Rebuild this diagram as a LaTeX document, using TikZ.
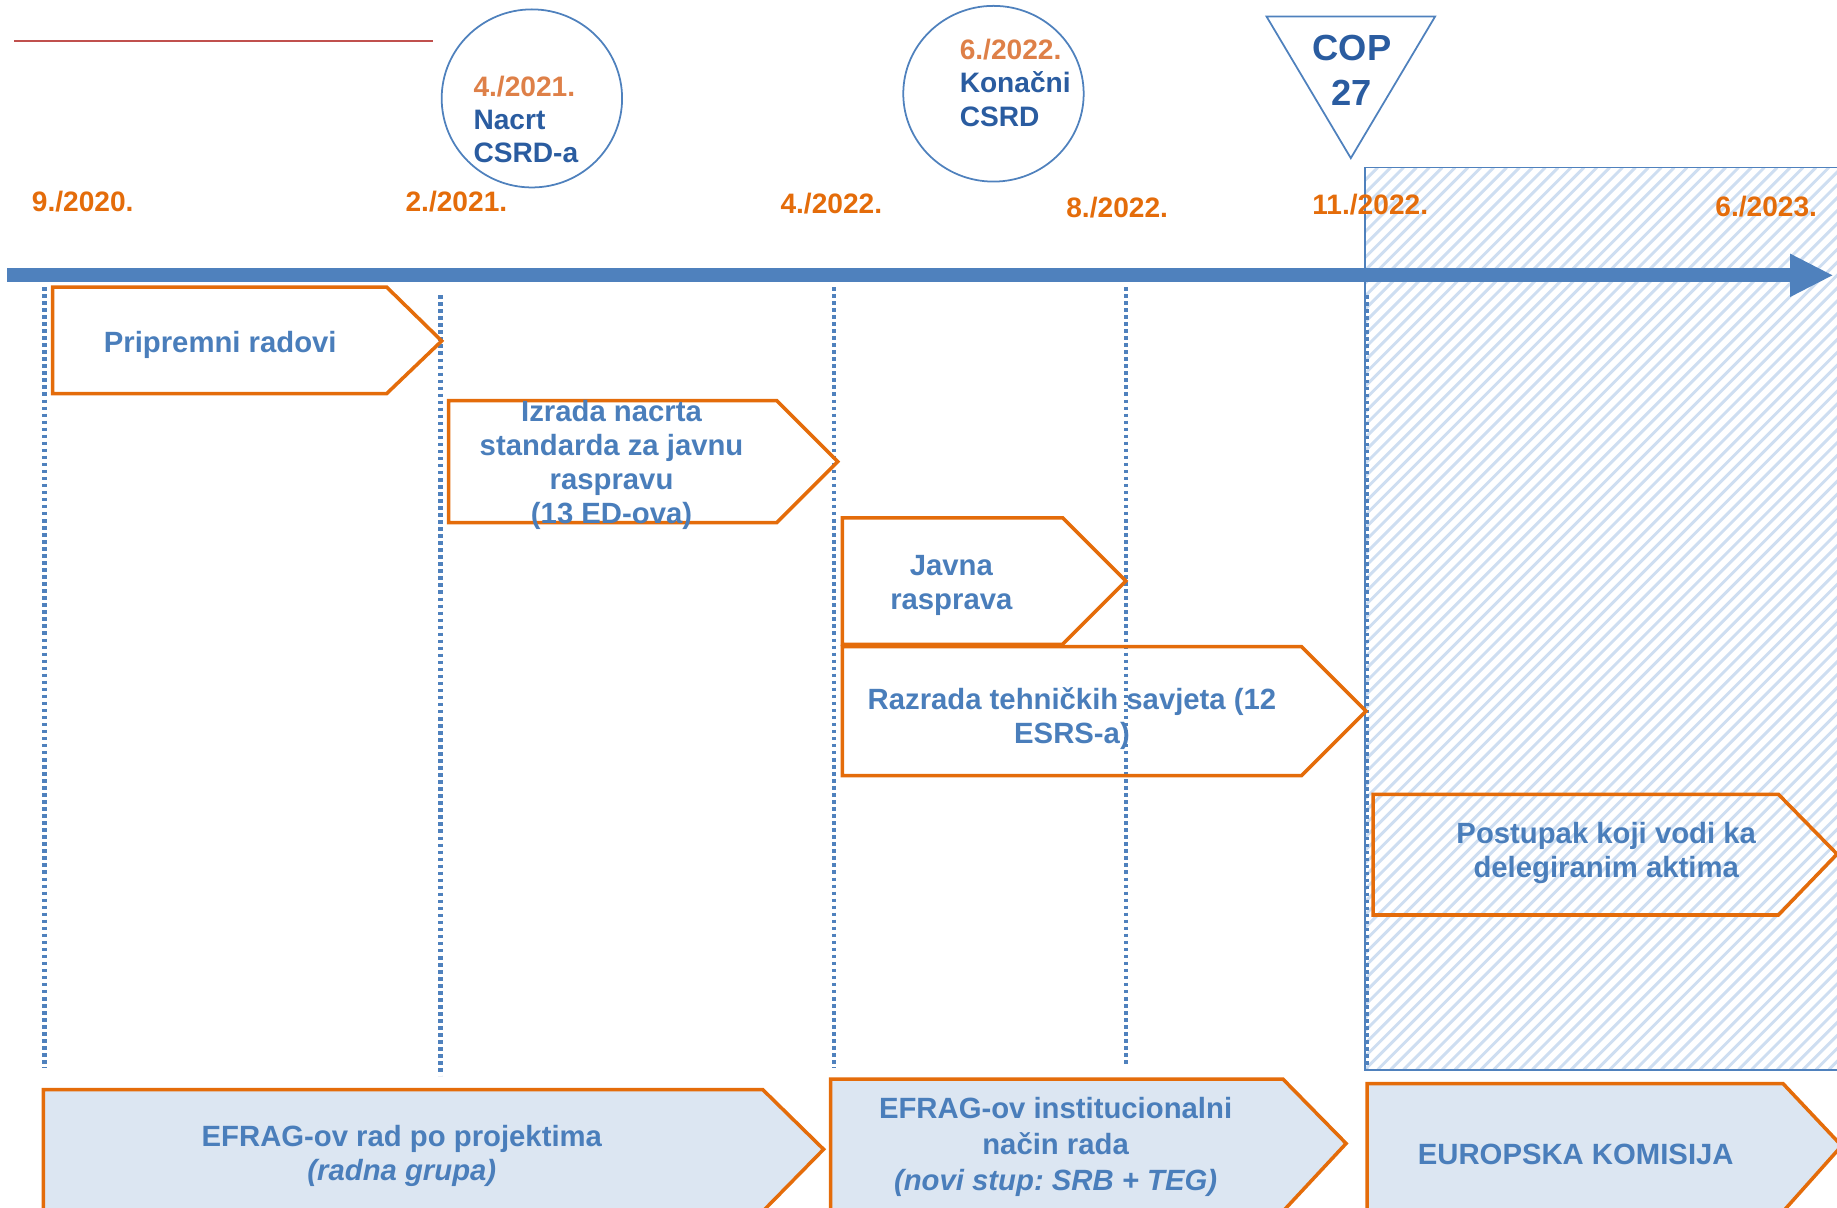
\documentclass[tikz,border=0pt]{standalone}
\usepackage{fontspec}
\setmainfont{Liberation Sans}
\usetikzlibrary{arrows.meta}

\begin{document}
\frenchspacing
\begin{tikzpicture}[x=1pt, y=-1pt,
	every node/.style={inner sep=0pt},
	dateText/.style={anchor=west, text=dateColor, font=\bfseries\fontsize{24}{28}\selectfont},
	noteText/.style={anchor=west, align=left, text=darkColor, font=\bfseries\fontsize{24}{28.5}\selectfont},
	phaseBox/.style={draw=boxColor, line width=3pt, line join=miter},
	phaseText/.style={align=center, yshift=-2.5pt, text=textColor, font=\bfseries\fontsize{25}{29}\selectfont},
	tickLine/.style={axisColor, line width=3.5pt, dash pattern=on 3pt off 3pt}]
% Colors
\definecolor{axisColor}{RGB}{79,129,189}
\definecolor{boxColor}{RGB}{228,108,10}
\definecolor{textColor}{RGB}{74,126,187}
\definecolor{darkColor}{RGB}{42,92,160}
\definecolor{dateColor}{RGB}{228,108,10}
\definecolor{paleDate}{RGB}{222,128,72}
\definecolor{fillColor}{RGB}{220,230,242}
\definecolor{hatchColor}{RGB}{206,222,241}
\definecolor{ruleColor}{RGB}{192,80,77}
\useasboundingbox (0,0) rectangle (1568,1031);
% Hatched area (Europska komisija)
\begin{scope}
	\clip (1165,143) rectangle (1568,913);
	\foreach \x in {395,406,...,1568}
		\draw[hatchColor, line width=2.5pt] (\x,913) -- ++(770,-770);
\end{scope}
\draw[axisColor, line width=1.5pt]
	  (1575,143) % top right
	-- (1165,143) % top left
	-- (1165,913) % bottom left
	-- (1575,913);% bottom right
% Rule top left
\draw[ruleColor, line width=1.5pt] (12,35) -- (370,35);
% Milestones
\begin{scope}[axisColor, line width=1.5pt]
	\draw (454,84) ellipse [x radius=77, y radius=76];
	\draw (848,80) ellipse [x radius=77, y radius=75];
	\draw (1081,14) -- (1225,14) -- (1153,135) -- cycle;
\end{scope}
\node[noteText] (draft) at (404,102)
	{\textcolor{paleDate}{4./2021.}\\Nacrt\\CSRD-a};
\node[noteText] (final) at (819,70.5)
	{\textcolor{paleDate}{6./2022.}\\Konačni\\CSRD};
\node[align=center, text=darkColor, font=\bfseries\fontsize{31}{39}\selectfont]
	(cop) at (1154,60) {COP\\27};
% Dates
\node[dateText] (d1) at (27,172) {9./2020.};
\node[dateText] (d2) at (346,172) {2./2021.};
\node[dateText] (d3) at (666,174) {4./2022.};
\node[dateText] (d4) at (910,177) {8./2022.};
\node[dateText] (d5) at (1120,175) {11./2022.};
\node[dateText] (d6) at (1464,176) {6./2023.};
% Timeline
\draw[axisColor, line width=12pt, -{Triangle[length=37pt, width=34pt]}]
	(6,235) -- (1565,235);
\draw[tickLine] (38,245) -- (38,912);
\draw[tickLine] (376,252) -- (376,918);
\draw[tickLine] (712,245) -- (712,912);
\draw[tickLine] (961,245) -- (961,910);
\draw[tickLine] (1167,252) -- (1167,912);
% Phases
\draw[phaseBox]
	  (45,245)  -- (330,245)
	-- (377,291) -- (330,336)
	-- (45,336)  -- cycle;
\node[phaseText] (prep) at (188,292) {Pripremni radovi};
\draw[phaseBox]
	  (383,342) -- (663,342)
	-- (715,394) -- (663,446)
	-- (383,446) -- cycle;
\node[phaseText] (ed) at (522,394.5)
	{Izrada nacrta\\standarda za javnu\\raspravu\\(13 ED-ova)};
\draw[phaseBox]
	  (719,442) -- (907,442)
	-- (961,496) -- (907,550)
	-- (719,550) -- cycle;
\node[phaseText] (consult) at (812,497.5) {Javna\\rasprava};
\draw[phaseBox]
	  (719,552) -- (1111,552)
	-- (1166,607) -- (1111,662)
	-- (719,662) -- cycle;
\node[phaseText] (advice) at (915,610.5)
	{Razrada tehničkih savjeta (12\\ESRS-a)};
\draw[phaseBox]
	  (1172,678) -- (1518,678)
	-- (1568,729) -- (1518,781)
	-- (1172,781) -- cycle;
\node[phaseText] (delegated) at (1371,725.5)
	{Postupak koji vodi ka\\delegiranim aktima};
% Bodies
\begin{scope}[fill=fillColor]
	\draw[phaseBox, fill=fillColor]
		  (37,930)  -- (651,930)
		-- (703,981) -- (651,1034)
		-- (37,1034) -- cycle;
	\draw[phaseBox, fill=fillColor]
		  (709,921)  -- (1095,921)
		-- (1149,976) -- (1095,1034)
		-- (709,1034) -- cycle;
	\draw[phaseBox, fill=fillColor]
		  (1167,925) -- (1522,925)
		-- (1572,978) -- (1522,1034)
		-- (1167,1034) -- cycle;
\end{scope}
\node[phaseText] (projects) at (343,984.5)
	{EFRAG-ov rad po projektima\\\textit{(radna grupa)}};
\node[phaseText, font=\bfseries\fontsize{25}{30.5}\selectfont] (institution) at (901,976.5)
	{EFRAG-ov institucionalni\\način rada\\\textit{(novi stup: SRB + TEG)}};
\node[phaseText] (commission) at (1345,983) {EUROPSKA KOMISIJA};
\end{tikzpicture}
\end{document}
